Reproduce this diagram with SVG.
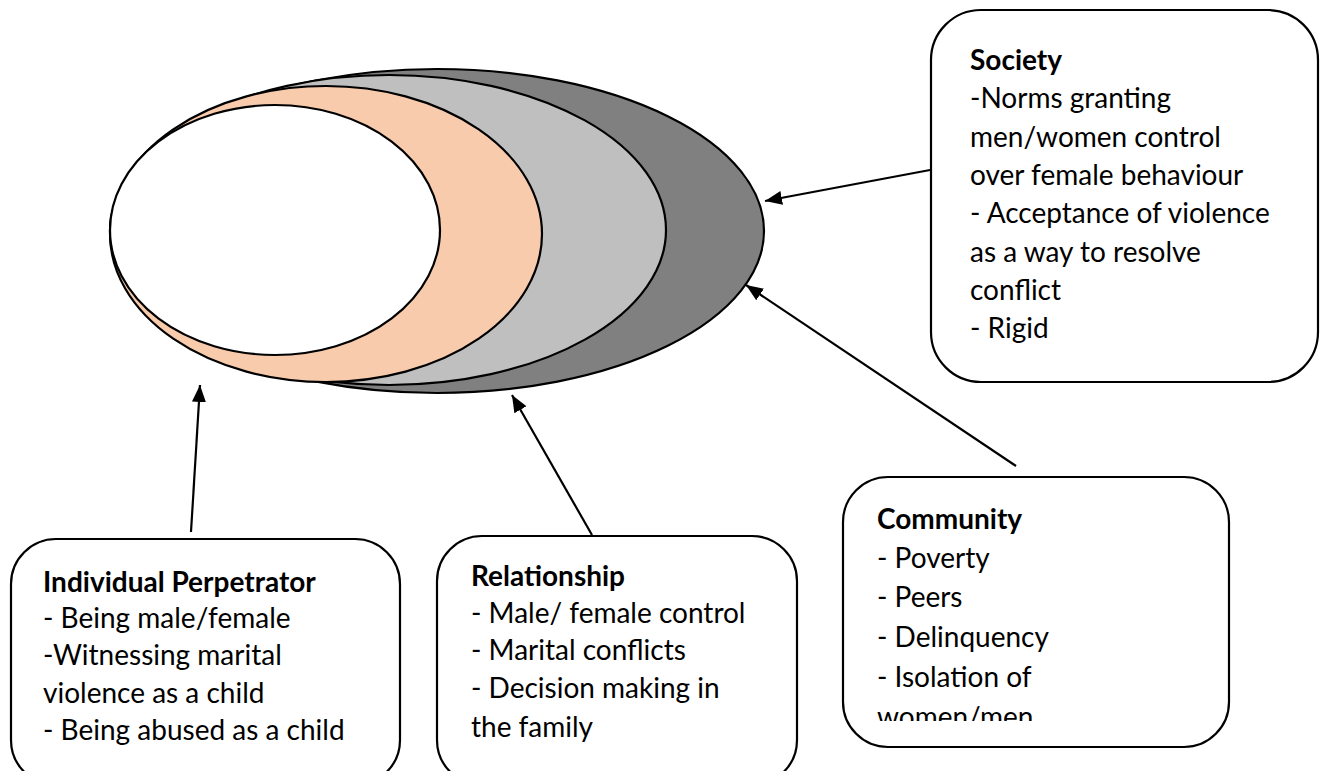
<svg xmlns="http://www.w3.org/2000/svg" width="1325" height="771" viewBox="0 0 1325 771">
<defs>
<style>
.box{fill:#fff;stroke:#000;stroke-width:2.2}
.ell{stroke:#000;stroke-width:2.2}
.t{font-family:Lato,"Liberation Sans",sans-serif;font-size:28px;fill:#000}
.b{font-weight:bold}
.conn{stroke:#000;stroke-width:2.2;fill:none;marker-end:url(#ah)}
</style>
<marker id="ah" markerUnits="userSpaceOnUse" markerWidth="18" markerHeight="16" refX="17" refY="8" orient="auto">
<path d="M0,1 L17,8 L0,15 z" fill="#000"/>
</marker>
<clipPath id="cc"><rect x="843" y="477" width="386" height="244"/></clipPath>
</defs>
<rect width="1325" height="771" fill="#fff"/>
<g id="layers">
<ellipse class="ell" cx="437" cy="231" rx="327" ry="162" fill="#808080"/>
<ellipse class="ell" cx="389" cy="230" rx="277" ry="155" fill="#bfbfbf"/>
<ellipse class="ell" cx="326" cy="234" rx="216" ry="148" fill="#f8cbad"/>
<ellipse class="ell" cx="275" cy="230" rx="165" ry="125" fill="#fff"/>
</g>
<g id="connectors">
<line class="conn" x1="930" y1="170" x2="765" y2="201"/>
<line class="conn" x1="1016" y1="466" x2="746" y2="285"/>
<line class="conn" x1="191" y1="532" x2="200" y2="385"/>
<line class="conn" x1="592" y1="535" x2="512" y2="395"/>
</g>
<g id="society">
<rect class="box" x="931" y="10" width="387" height="372" rx="50" ry="50"/>
<text class="t" x="970"><tspan class="b" x="970" y="70">Society</tspan><tspan x="970" y="108">-Norms granting</tspan><tspan x="970" y="147">men/women control</tspan><tspan x="970" y="185">over female behaviour</tspan><tspan x="970" y="223">- Acceptance of violence</tspan><tspan x="970" y="262">as a way to resolve</tspan><tspan x="970" y="300">conflict</tspan><tspan x="970" y="338">- Rigid</tspan></text>
</g>
<g id="community">
<rect class="box" x="843" y="477" width="386" height="270" rx="45" ry="45"/>
<text class="t" x="877" clip-path="url(#cc)"><tspan class="b" x="877" y="529">Community</tspan><tspan x="877" y="568">- Poverty</tspan><tspan x="877" y="607">- Peers</tspan><tspan x="877" y="647">- Delinquency</tspan><tspan x="877" y="687">- Isolation of</tspan><tspan x="877" y="727">women/men</tspan></text>
</g>
<g id="individual">
<rect class="box" x="11" y="539" width="389" height="246" rx="45" ry="45"/>
<text class="t" x="43"><tspan class="b" x="43" y="592">Individual Perpetrator</tspan><tspan x="43" y="628">- Being male/female</tspan><tspan x="43" y="665">-Witnessing marital</tspan><tspan x="43" y="703">violence as a child</tspan><tspan x="43" y="740">- Being abused as a child</tspan></text>
</g>
<g id="relationship">
<rect class="box" x="437" y="536" width="360" height="249" rx="45" ry="45"/>
<text class="t" x="471"><tspan class="b" x="471" y="586">Relationship</tspan><tspan x="471" y="623">- Male/ female control</tspan><tspan x="471" y="660">- Marital conflicts</tspan><tspan x="471" y="698">- Decision making in</tspan><tspan x="471" y="737">the family</tspan></text>
</g>
</svg>
